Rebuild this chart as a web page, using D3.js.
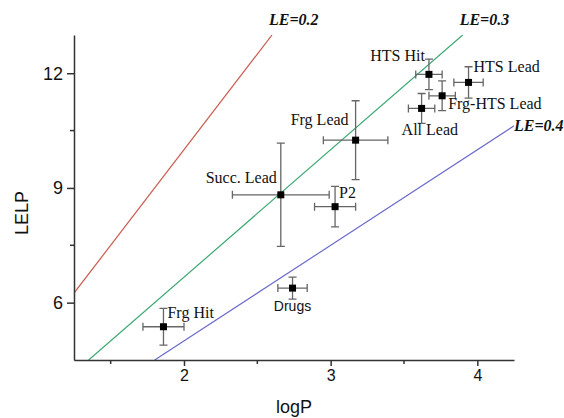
<!DOCTYPE html>
<meta charset="utf-8">
<style>
body { margin: 0; background: #fff; }
.axis path, .axis line { stroke: #333; stroke-width: 1.5px; }
.axis text { font-family: "Liberation Sans", Arial, sans-serif; fill: #111; }
.axis--x text { font-size: 16px; }
.axis--y text { font-size: 18px; }
.title { font: 18px "Liberation Sans", Arial, sans-serif; fill: #111; }
.label { font: 16px "Liberation Serif", "Times New Roman", serif; fill: #111; }
.le-label { font: italic bold 16px "Liberation Serif", "Times New Roman", serif; fill: #111; }
.errbar { stroke: #666; stroke-width: 1.3px; fill: none; }
.le-line { fill: none; stroke-width: 1.2px; }
</style>
<svg width="564" height="418"></svg>
<script src="https://d3js.org/d3.v7.min.js"></script>
<script>
// compound classes
var names    = ["Frg Hit", "Drugs", "P2", "Succ. Lead", "Frg Lead", "HTS Hit", "HTS Lead", "Frg-HTS Lead", "All Lead"];
var logP     = [1.86, 2.74, 3.03, 2.66, 3.17, 3.67, 3.94, 3.76, 3.62];
var logPErr  = [0.14, 0.10, 0.14, 0.33, 0.22, 0.09, 0.10, 0.09, 0.09];
var lelp     = [5.37, 6.38, 8.51, 8.82, 10.25, 11.97, 11.76, 11.41, 11.08];
var lelpErr  = [0.48, 0.29, 0.53, 1.35, 1.03, 0.40, 0.41, 0.39, 0.39];

// iso-efficiency lines, LELP = logP / LE
var leValues = [0.2, 0.3, 0.4];
var leColors = ["#c95a4c", "#3aa872", "#6b6bcc"];

var xTicks = [2, 3, 4], xMinor = [1.5, 2.5, 3.5];
var yTicks = [6, 9, 12], yMinor = [7.5, 10.5];

var svg = d3.select("svg"),
    margin = {top: 35, right: 50, bottom: 58, left: 74},
    width = svg.attr("width") - margin.left - margin.right,
    height = svg.attr("height") - margin.top - margin.bottom,
    g = svg.append("g").attr("transform", "translate(" + margin.left + "," + margin.top + ")");

var x = d3.scaleLinear().domain([1.25, 4.25]).range([0, width]),
    y = d3.scaleLinear().domain([4.5, 13]).range([height, 0]);

// label placement relative to each point: [dx, dy, anchor]
var labelPos = {
  "Frg Hit": [4, -9, "start"],
  "Drugs": [0, 23, "middle"],
  "P2": [4, -9, "start"],
  "Succ. Lead": [-4, -12, "end"],
  "Frg Lead": [-7, -15, "end"],
  "HTS Hit": [-4, -13, "end"],
  "HTS Lead": [5, -10, "start"],
  "Frg-HTS Lead": [6, 13, "start"],
  "All Lead": [-20, 27, "start"]
};

var data = names.map(function(n, i) {
  return {name: n, x: logP[i], xe: logPErr[i], y: lelp[i], ye: lelpErr[i]};
});

svg.append("defs").append("clipPath").attr("id", "clip")
  .append("rect").attr("width", width).attr("height", height);

// LE lines
var xd = x.domain(), yd = y.domain();
leValues.forEach(function(le, i) {
  var x0 = Math.max(xd[0], yd[0] * le), x1 = Math.min(xd[1], yd[1] * le);
  g.append("line")
    .attr("class", "le-line")
    .attr("clip-path", "url(#clip)")
    .attr("x1", x(x0)).attr("y1", y(x0 / le))
    .attr("x2", x(x1)).attr("y2", y(x1 / le))
    .style("stroke", leColors[i]);
  var lx, ly;
  if (x1 < xd[1]) { lx = x(x1) - 3; ly = y(x1 / le) - 10; }
  else { lx = x(x1); ly = y(x1 / le) + 5; }
  g.append("text").attr("class", "le-label")
    .attr("x", lx).attr("y", ly)
    .text("LE=" + le.toFixed(1));
});

// axes
var xAxis = g.append("g")
  .attr("class", "axis axis--x")
  .attr("transform", "translate(0," + height + ")")
  .call(d3.axisBottom(x).tickValues(xTicks).tickFormat(d3.format("d")).tickSize(6).tickSizeOuter(0).tickPadding(4));
xAxis.selectAll(".minor").data(xMinor).enter().append("line")
  .attr("class", "minor").attr("x1", x).attr("x2", x).attr("y1", 0).attr("y2", 4)
  .style("stroke", "#333").style("stroke-width", "1.5px");

var yAxis = g.append("g")
  .attr("class", "axis axis--y")
  .call(d3.axisLeft(y).tickValues(yTicks).tickFormat(d3.format("d")).tickSize(7).tickSizeOuter(0).tickPadding(4));
yAxis.selectAll(".minor").data(yMinor).enter().append("line")
  .attr("class", "minor").attr("y1", y).attr("y2", y).attr("x1", 0).attr("x2", -4)
  .style("stroke", "#333").style("stroke-width", "1.5px");

g.append("text").attr("class", "title")
  .attr("x", width / 2).attr("y", height + 53)
  .attr("text-anchor", "middle")
  .text("logP");

g.append("text").attr("class", "title")
  .attr("transform", "translate(" + (28 - margin.left) + "," + (178) + ") rotate(-90)")
  .attr("text-anchor", "middle")
  .text("LELP");

// error bars
var cap = 4;
var pt = g.selectAll(".pt").data(data).enter().append("g").attr("class", "pt");
pt.append("path").attr("class", "errbar").attr("d", function(d) {
  var l = x(d.x - d.xe), r = x(d.x + d.xe), cy = y(d.y);
  var t = y(d.y + d.ye), b = y(d.y - d.ye), cx = x(d.x);
  return "M" + l + "," + cy + "H" + r +
    "M" + l + "," + (cy - cap) + "V" + (cy + cap) +
    "M" + r + "," + (cy - cap) + "V" + (cy + cap) +
    "M" + cx + "," + t + "V" + b +
    "M" + (cx - cap) + "," + t + "H" + (cx + cap) +
    "M" + (cx - cap) + "," + b + "H" + (cx + cap);
});
pt.append("rect")
  .attr("x", function(d) { return x(d.x) - 3.5; })
  .attr("y", function(d) { return y(d.y) - 3.5; })
  .attr("width", 7).attr("height", 7)
  .style("fill", "#000");

pt.append("text")
  .attr("class", "label")
  .attr("x", function(d) { return x(d.x) + labelPos[d.name][0]; })
  .attr("y", function(d) { return y(d.y) + labelPos[d.name][1]; })
  .attr("text-anchor", function(d) { return labelPos[d.name][2]; })
  .style("font-family", function(d) { return d.name == "Drugs" ? "'Liberation Sans', Arial, sans-serif" : null; })
  .style("font-size", function(d) { return d.name == "Drugs" ? "14px" : null; })
  .text(function(d) { return d.name; });
</script>
